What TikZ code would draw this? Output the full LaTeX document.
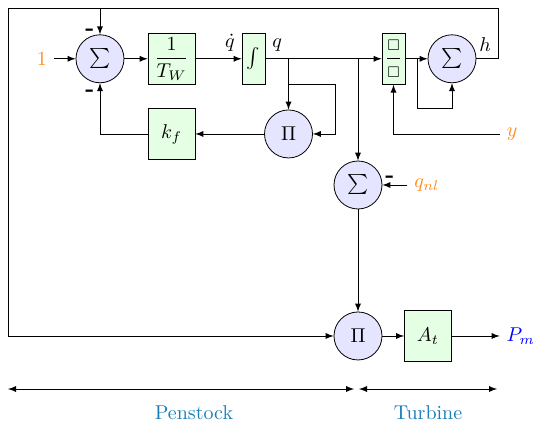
\documentclass[tikz,border=0pt]{standalone}
\usetikzlibrary{arrows.meta}
\usepackage{amssymb}
\usepackage{amsmath}
\definecolor{sigorange}{RGB}{255,140,30}
\definecolor{partblue}{RGB}{25,125,185}

\begin{document}
\begin{tikzpicture}[>=latex,
    op/.style={circle, draw, fill=blue!10, minimum size=24pt, inner sep=0pt},
    blk/.style={draw, fill=green!10, minimum width=23.5pt, minimum height=25.5pt, inner sep=1pt},
    narrowblk/.style={blk, minimum width=11.5pt},
    sig/.style={text=sigorange},
    minus/.style={inner sep=0pt, font=\large\bfseries}]
  \useasboundingbox (0,0) rectangle (9.384,7.433);
  % upper loop
  \node[sig] (one) at (0.738,6.40) {$1$};
  \node[op] (S1) at (1.757,6.40) {$\sum$};
  \node[blk] (TW) at (3.014,6.40) {$\dfrac{1}{T_W}$};
  \node[narrowblk] (I) at (4.455,6.40) {$\int$};
  \node[narrowblk] (D) at (6.915,6.40) {$\dfrac{\scriptstyle\square}{\scriptstyle\square}$};
  \node[op] (S3) at (7.943,6.40) {$\sum$};
  \node[blk] (Kf) at (3.014,5.079) {$k_f$};
  \node[op] (P1) at (5.070,5.079) {$\Pi$};
  \node[sig] (ysig) at (9.0,5.079) {$y$};
  \node[minus] (m1) at (1.580,6.87) {-};
  \node[minus] (m2) at (1.580,5.80) {-};
  % lower part
  \node[op] (S2) at (6.291,4.182) {$\sum$};
  \node[sig] (qnl) at (7.50,4.182) {$q_{nl}$};
  \node[minus] (m3) at (6.853,4.29) {-};
  \node[op] (P2) at (6.291,1.529) {$\Pi$};
  \node[blk] (At) at (7.521,1.529) {$A_t$};
  \node[text=blue] (Pm) at (9.15,1.529) {$P_m$};
  \coordinate (sqr) at (5.887,5.957);
  \coordinate (db) at (7.328,5.535);
  \coordinate (tr) at (8.751,7.293);
  \coordinate (tl) at (0.141,7.293);

  \draw[->] (one) -- (S1);
  \draw[->] (S1) -- (TW);
  \draw[->] (TW) -- (I) node[pos=0.75,above] {$\dot{q}$};
  \draw[->] (I) -- (D) node[pos=0,above right] {$q$};
  \draw[->] (P1 |- I) -- (P1);
  \draw[->] (P1 |- sqr) -- (sqr) |- (P1.east);
  \draw[->] (S2 |- I) -- (S2);
  \draw[->] (P1) -- (Kf);
  \draw[->] (Kf) -| (S1);
  \draw[->] (D) -- (S3);
  \draw[->] (db |- D) -- (db) -| (S3.south);
  \draw[->] (ysig) -| (D);
  \draw (S3) -- (tr |- S3) node[pos=0.4,above] {$h$};
  \draw[->] (tr |- S3) -- (tr) -- (tl) |- (P2);
  \draw[->] (S1 |- tl) -- (S1);
  \draw[->] (qnl) -- (S2);
  \draw[->] (S2) -- (P2);
  \draw[->] (P2) -- (At);
  \draw[->] (At) -- (Pm);

  % sections
  \coordinate (pa) at (0.141,0.597);
  \coordinate (pb) at (6.221,0.597);
  \coordinate (ta) at (6.309,0.597);
  \coordinate (tb) at (8.734,0.597);
  \draw[<->] (pa) -- (pb);
  \draw[<->] (ta) -- (tb);
  \node[text=partblue] (pen) at (3.409,0.18) {Penstock};
  \node[text=partblue] (tur) at (7.521,0.18) {Turbine};
\end{tikzpicture}
\end{document}
